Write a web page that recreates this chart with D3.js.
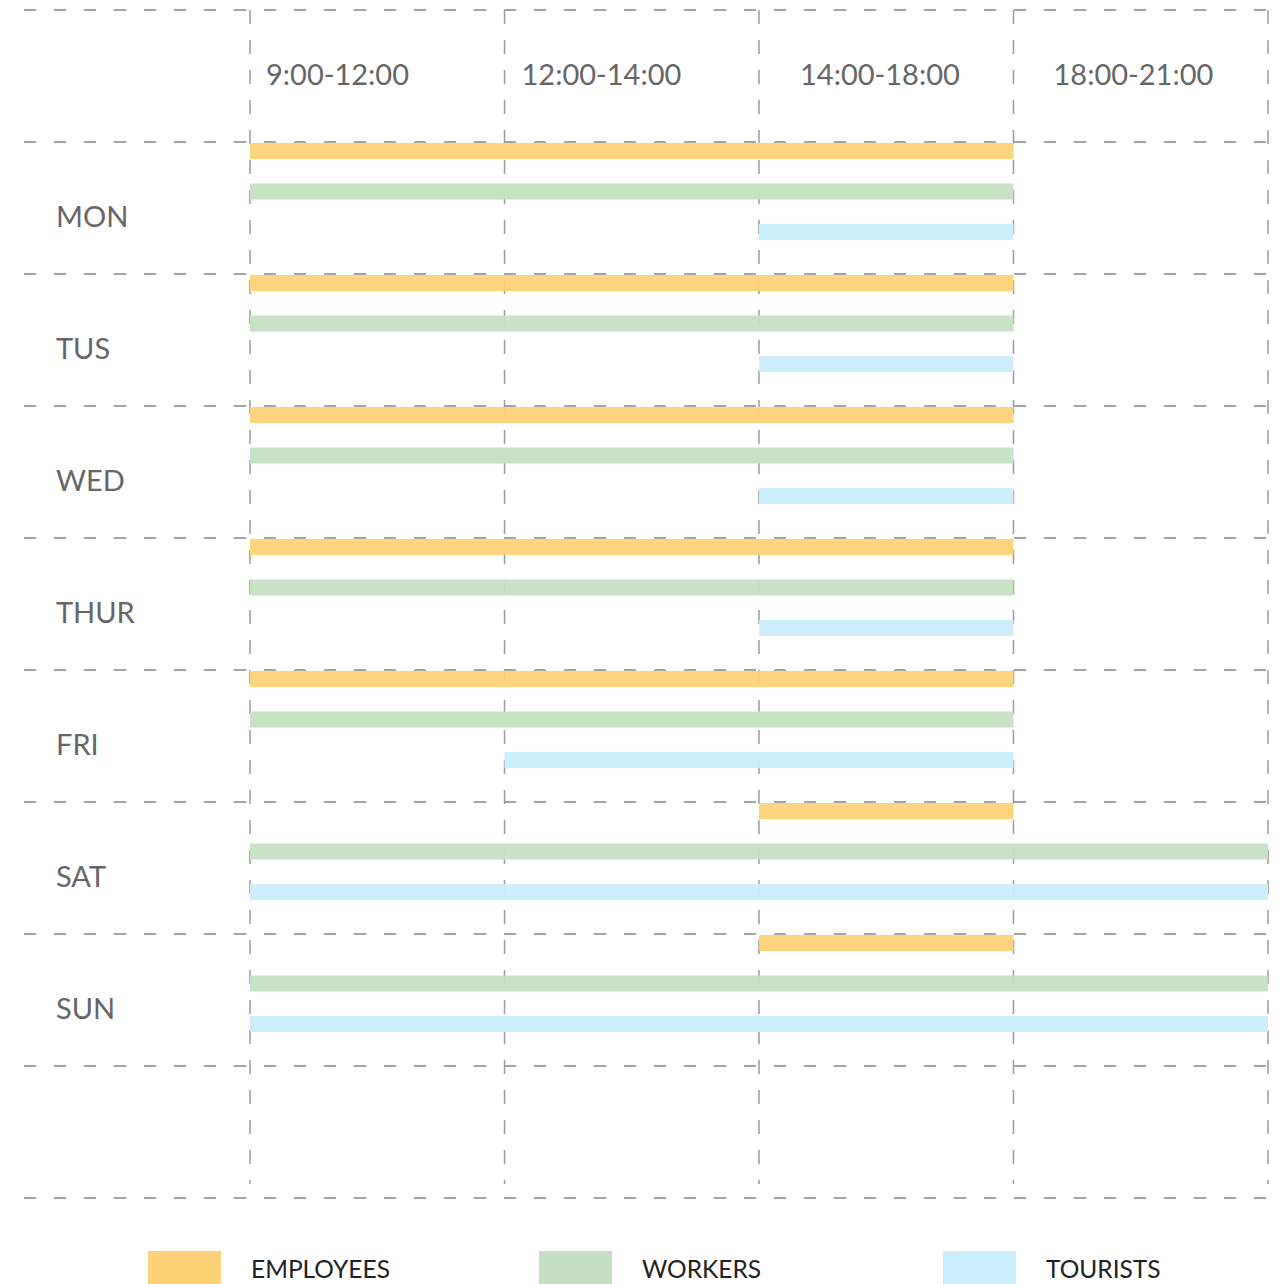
<!DOCTYPE html>
<html>
<head>
<meta charset="utf-8">
<script src="https://cdn.jsdelivr.net/npm/d3@7/dist/d3.min.js"></script>
<style>
  html, body { margin: 0; padding: 0; background: #fff; }
  svg { display: block; }
  text { font-family: "Lato", "Open Sans", sans-serif; }
</style>
</head>
<body>
<svg id="chart" width="1281" height="1284"></svg>
<script>
(function () {
// Time slots along the top
const slots = ["9:00-12:00", "12:00-14:00", "14:00-18:00", "18:00-21:00"];
// Days down the side
const days = ["MON", "TUS", "WED", "THUR", "FRI", "SAT", "SUN"];
// Groups shown in each day row
const groups = ["EMPLOYEES", "WORKERS", "TOURISTS"];

// Presence spans per group, as [first slot index, slot index after the last]
const employees = [[0, 3], [0, 3], [0, 3], [0, 3], [0, 3], [2, 3], [2, 3]];
const workers   = [[0, 3], [0, 3], [0, 3], [0, 3], [0, 3], [0, 4], [0, 4]];
const tourists  = [[2, 3], [2, 3], [2, 3], [2, 3], [1, 3], [0, 4], [0, 4]];

const spans = [employees, workers, tourists];
const colors = ["#FED176", "#C4E0C2", "#CAEEFC"];

const svg = d3.select("#chart");

// Layout
const gridLeft = 24, gridRight = 1275;
const gridTop = 10, rowH = 132;
const x = d3.scaleLinear().domain([0, slots.length]).range([250, 1268]);
// row index 0 = header, 1..7 = days, 8 = empty footer row
const y = d3.scaleLinear().domain([0, 9]).range([gridTop, gridTop + 9 * rowH]);
const sub = d3.scalePoint().domain(groups).range([1, 82]);
const barH = 16;

// Grid
const grid = svg.append("g");
grid.selectAll("line.h")
  .data(d3.range(0, 10))
  .join("line")
  .attr("class", "h")
  .attr("x1", gridLeft).attr("x2", gridRight)
  .attr("y1", d => y(d)).attr("y2", d => y(d))
  .attr("stroke", "#858585").attr("stroke-width", 1.5)
  .attr("stroke-dasharray", "12 18");

grid.selectAll("line.v")
  .data(d3.range(0, slots.length + 1))
  .join("line")
  .attr("class", "v")
  .attr("x1", d => x(d)).attr("x2", d => x(d))
  .attr("y1", y(0)).attr("y2", y(9) - 14)
  .attr("stroke", "#9a9a9a").attr("stroke-width", 1.5)
  .attr("stroke-dasharray", "14 16");

// Header labels (left nudge per column)
const headerNudge = [16, 17, 41, 40];
svg.append("g").selectAll("text")
  .data(slots)
  .join("text")
  .attr("x", (d, i) => x(i) + headerNudge[i])
  .attr("y", y(0) + 75)
  .attr("font-size", 29)
  .attr("fill", "#666")
  .text(d => d);

// Day labels
svg.append("g").selectAll("text")
  .data(days)
  .join("text")
  .attr("x", 56)
  .attr("y", (d, i) => y(i + 1) + 85)
  .attr("font-size", 29)
  .attr("fill", "#666")
  .text(d => d);

// Bars
const bars = [];
days.forEach((day, di) => {
  groups.forEach((g, gi) => {
    const s = spans[gi][di];
    bars.push({ day: di, group: g, color: colors[gi], from: s[0], to: s[1] });
  });
});

svg.append("g").selectAll("rect")
  .data(bars)
  .join("rect")
  .attr("x", d => x(d.from))
  .attr("width", d => x(d.to) - x(d.from))
  .attr("y", d => y(d.day + 1) + sub(d.group))
  .attr("height", barH)
  .attr("fill", d => d.color)
  .attr("fill-opacity", 0.94);

// Legend
const legendX = [148, 539, 943];
const legend = svg.append("g").selectAll("g")
  .data(groups)
  .join("g")
  .attr("transform", (d, i) => `translate(${legendX[i]},1251)`);
legend.append("rect")
  .attr("width", 73).attr("height", 40)
  .attr("fill", (d, i) => colors[i]);
legend.append("text")
  .attr("x", 103).attr("y", 27)
  .attr("font-size", 24.5)
  .attr("fill", "#222")
  .text(d => d);
})();
</script>
</body>
</html>
